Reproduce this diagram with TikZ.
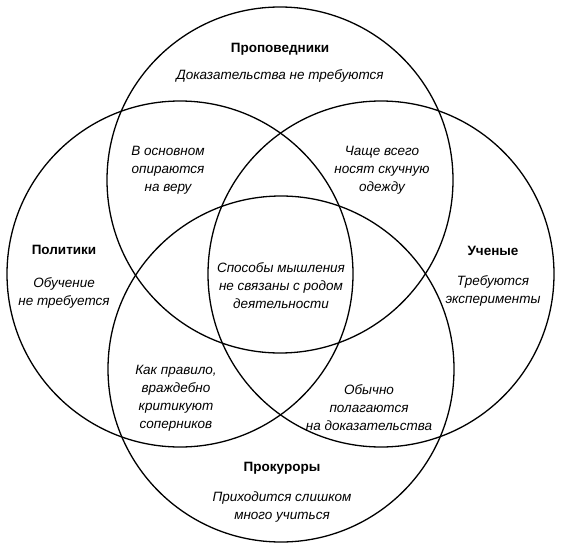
\documentclass[tikz,border=0pt]{standalone}
\usepackage{fontspec}
\setmainfont{Liberation Sans}
\usepackage{tikz}

\begin{document}
\begin{tikzpicture}[x=1pt, y=-1pt,
    every node/.style={inner sep=0pt},
    ring/.style={circle, draw, line width=1.3pt, minimum size=346pt},
    group/.style={font=\fontsize{13.5}{18}\selectfont\bfseries},
    note/.style={font=\fontsize{13.5}{18}\selectfont\itshape, align=center}]
  \useasboundingbox (0,0) rectangle (561,548);
  \node[ring] (top) at (280, 180) {};
  \node[ring] (left) at (180, 274) {};
  \node[ring] (right) at (381, 274) {};
  \node[ring] (bottom) at (281, 369) {};
  \node[group] (prop) at (280, 49) {Проповедники};
  \node[note] (propnote) at (280, 76) {Доказательства не требуются};
  \node[group] (pol) at (64, 250) {Политики};
  \node[note] (polnote) at (64, 293) {Обучение\\не требуется};
  \node[group] (sci) at (493, 251) {Ученые};
  \node[note] (scinote) at (493, 291) {Требуются\\эксперименты};
  \node[group] (pros) at (282, 468) {Прокуроры};
  \node[note] (prosnote) at (282, 507) {Приходится слишком\\много учиться};
  \node[note] (faith) at (168, 170) {В основном\\опираются\\на веру};
  \node[note] (dress) at (382, 170) {Чаще всего\\носят скучную\\одежду};
  \node[note] (rivals) at (176, 398) {Как правило,\\враждебно\\критикуют\\соперников};
  \node[note] (proof) at (369, 408) {Обычно\\полагаются\\на доказательства};
  \node[note] (core) at (281, 286) {Способы мышления\\не связаны с родом\\деятельности};
\end{tikzpicture}
\end{document}
